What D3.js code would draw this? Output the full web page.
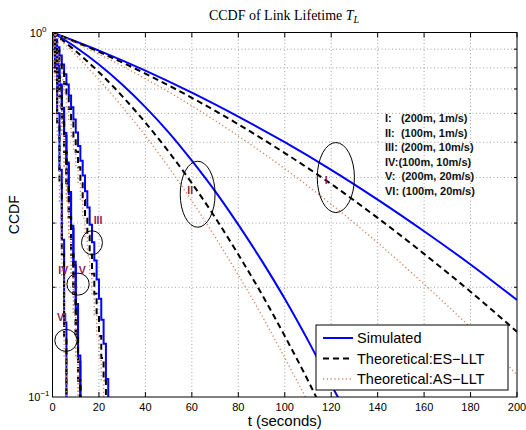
<!DOCTYPE html>
<html><head><meta charset="utf-8">
<script src="https://cdn.jsdelivr.net/npm/d3@7"></script>
<style>
body{margin:0;background:#fff;}
svg{display:block;}
</style></head>
<body>
<svg id="chart" width="526" height="430"></svg>
<script>
// ---------- data ----------
const tI = [0,20,40,60,80,100,120,140,160,180,200];
const simI = [1,0.892,0.786,0.684,0.588,0.500,0.420,0.348,0.285,0.231,0.1845];
const esI  = [1,0.885,0.771,0.662,0.560,0.467,0.384,0.310,0.247,0.1945,0.151];
const asI  = [1,0.872,0.747,0.629,0.520,0.423,0.338,0.265,0.204,0.155,0.115];

const tII = [0,10,20,30,40,50,60,70,80,90,100,110,120,130];
const simII = [1,0.911,0.817,0.720,0.624,0.532,0.445,0.367,0.297,0.237,0.186,0.143,0.108,0.083];
const esII  = [1,0.889,0.778,0.669,0.566,0.471,0.386,0.311,0.246,0.192,0.147,0.111,0.082,0.060];
const asII  = [1,0.868,0.742,0.626,0.521,0.427,0.345,0.275,0.216,0.168,0.128,0.097,0.072,0.053];

const tSteep = [0,1,2,3,4,5,6,7,8,9,10,11,12,13,14,15,16,17,18,19,20,21,22,23,24,25];
const simIII = [1,0.957,0.911,0.865,0.817,0.768,0.720,0.672,0.624,0.577,0.532,0.488,0.445,0.405,0.367,0.331,0.297,0.266,0.237,0.210,0.186,0.163,0.140,0.112,0.095,0.080];
const esIII  = [1,0.945,0.889,0.833,0.778,0.723,0.669,0.617,0.566,0.518,0.471,0.427,0.386,0.347,0.311,0.277,0.246,0.218,0.192,0.168,0.147,0.128,0.111,0.096,0.080];
const asIII  = [1,0.933,0.868,0.804,0.742,0.683,0.626,0.572,0.521,0.472,0.427,0.385,0.345,0.309,0.275,0.244,0.216,0.191,0.168,0.147,0.128,0.111,0.097,0.080];
const simIV = [1,0.910,0.810,0.710,0.615,0.520,0.435,0.360,0.290,0.230,0.175,0.125,0.090];
const esIV  = [1,0.889,0.778,0.669,0.566,0.471,0.386,0.311,0.246,0.192,0.147,0.111,0.082];
const asIV  = [1,0.868,0.742,0.626,0.521,0.427,0.345,0.275,0.216,0.168,0.128,0.097,0.072];
const simV  = [1,0.915,0.818,0.720,0.622,0.530,0.440,0.365,0.295,0.235,0.180,0.130,0.092];
const esV   = [1,0.889,0.778,0.669,0.566,0.471,0.386,0.311,0.246,0.192,0.147,0.111,0.082];
const asV   = [1,0.868,0.742,0.626,0.521,0.427,0.345,0.275,0.216,0.168,0.128,0.097,0.072];
const simVI = [1,0.800,0.600,0.420,0.270,0.160,0.090];
const esVI  = [1,0.778,0.566,0.386,0.246,0.147,0.082];
const asVI  = [1,0.742,0.521,0.345,0.216,0.128,0.072];

const xTicks = [0,20,40,60,80,100,120,140,160,180,200];
const yMinor = [0.2,0.3,0.4,0.5,0.6,0.7,0.8,0.9];
const legendLabels = ["Simulated","Theoretical:ES\u2212LLT","Theoretical:AS\u2212LLT"];
const caseLines = ["I:   (200m, 1m/s)","II:  (100m, 1m/s)","III: (200m, 10m/s)","IV:(100m, 10m/s)","V:  (200m, 20m/s)","VI: (100m, 20m/s)"];
// ellipse annotations
const marks = [
  {lab:"I",   t:122, p:0.40, rt:8,  rp:35, lt:117.8, lp:0.385},
  {lab:"II",  t:62.5,p:0.36, rt:7.5,rp:33, lt:59.3,  lp:0.36},
  {lab:"III", t:17,  p:0.265,rt:4.5,rp:12, lt:19.6,  lp:0.298},
  {lab:"IV",  t:11,  p:0.204,rt:4.8,rp:11, lt:4.6,   lp:0.2175},
  {lab:"V",   t:11,  p:0.204,rt:0,  rp:0,  lt:12.8,  lp:0.2175},
  {lab:"VI",  t:5.8, p:0.143,rt:4.8,rp:11, lt:4.1,   lp:0.1616}
];

// ---------- setup ----------
const svg = d3.select("#chart");
const L = 52.5, R = 517, T = 32.5, B = 397;
const x = d3.scaleLinear().domain([0,200]).range([L,R]);
const y = d3.scaleLog().domain([0.1,1]).range([B,T]);

svg.append("defs").append("clipPath").attr("id","clip")
  .append("rect").attr("x",L).attr("y",T).attr("width",R-L).attr("height",B-T);

// grid
const grid = svg.append("g").attr("stroke","#8a8a8a").attr("stroke-width",0.8).attr("stroke-dasharray","1,2.5");
xTicks.slice(1,-1).forEach(v=>grid.append("line").attr("x1",x(v)).attr("x2",x(v)).attr("y1",T).attr("y2",B));
yMinor.forEach(v=>grid.append("line").attr("x1",L).attr("x2",R).attr("y1",y(v)).attr("y2",y(v)));

// curves
const plot = svg.append("g").attr("clip-path","url(#clip)");
const styles = {
  sim:{stroke:"#0000ff",w:2,dash:null},
  es:{stroke:"#000",w:2,dash:"6,4"},
  as:{stroke:"#d9825b",w:1.4,dash:"1.2,2.6"}
};
function draw(ts, vs, st, curve){
  const line = d3.line().x((d,i)=>x(ts[i])).y(d=>y(Math.max(d,0.05))).curve(curve);
  plot.append("path").datum(vs).attr("d",line).attr("fill","none")
    .attr("stroke",styles[st].stroke).attr("stroke-width",styles[st].w)
    .attr("stroke-dasharray",styles[st].dash).attr("stroke-linejoin","miter");
}
const S = d3.curveStepAfter, Lc = d3.curveMonotoneX;
draw(tI, simI, "sim", Lc); draw(tII, simII, "sim", Lc);
draw(tSteep, simIII, "sim", S); draw(tSteep, simIV, "sim", S); draw(tSteep, simV, "sim", S); draw(tSteep, simVI, "sim", S);
draw(tI, esI, "es", Lc); draw(tII, esII, "es", Lc);
draw(tSteep, esIII, "es", S); draw(tSteep, esIV, "es", S); draw(tSteep, esV, "es", S); draw(tSteep, esVI, "es", S);
draw(tI, asI, "as", Lc); draw(tII, asII, "as", Lc);
draw(tSteep, asIII, "as", S); draw(tSteep, asIV, "as", S); draw(tSteep, asV, "as", S); draw(tSteep, asVI, "as", S);

// axes frame & ticks
const ax = svg.append("g").attr("stroke","#000").attr("stroke-width",1);
ax.append("rect").attr("x",L).attr("y",T).attr("width",R-L).attr("height",B-T).attr("fill","none");
xTicks.forEach(v=>{
  ax.append("line").attr("x1",x(v)).attr("x2",x(v)).attr("y1",B).attr("y2",B-5);
  ax.append("line").attr("x1",x(v)).attr("x2",x(v)).attr("y1",T).attr("y2",T+5);
});
yMinor.forEach(v=>{
  ax.append("line").attr("x1",L).attr("x2",L+3).attr("y1",y(v)).attr("y2",y(v));
  ax.append("line").attr("x1",R).attr("x2",R-3).attr("y1",y(v)).attr("y2",y(v));
});
const xAxisLabels = svg.append("g").attr("font-family","Liberation Sans, Arial, sans-serif").attr("font-size",11).attr("fill","#000");
xTicks.forEach(v=>xAxisLabels.append("text").attr("x",x(v)).attr("y",B+14).attr("text-anchor","middle").text(v));
const yl = svg.append("g").attr("font-family","Liberation Sans, Arial, sans-serif").attr("fill","#000");
[[1,"0"],[0.1,"\u22121"]].forEach(([v,e])=>{
  const t = yl.append("text").attr("text-anchor","end").attr("x",e==="0"?L-6:L-3).attr("y",y(v)+4).attr("font-size",11);
  t.append("tspan").text("10");
  t.append("tspan").attr("dy",-5).attr("font-size",8).text(e);
});

// labels
svg.append("text").attr("x",284).attr("y",20).attr("text-anchor","middle")
  .attr("font-family","Liberation Serif, Times New Roman, serif").attr("font-size",14)
  .call(t=>{
    t.append("tspan").text("CCDF of Link Lifetime ");
    t.append("tspan").attr("font-style","italic").text("T");
    t.append("tspan").attr("font-style","italic").attr("font-size",10).attr("dy",3).text("L");
  });
svg.append("text").attr("x",x(100)).attr("y",426).attr("text-anchor","middle")
  .attr("font-family","Liberation Sans, Arial, sans-serif").attr("font-size",15).text("t (seconds)");
svg.append("text").attr("transform",`translate(19,${(T+B)/2}) rotate(-90)`).attr("text-anchor","middle")
  .attr("font-family","Liberation Sans, Arial, sans-serif").attr("font-size",14).text("CCDF");

// case list
const cl = svg.append("g").attr("font-family","Liberation Sans, Arial, sans-serif").attr("font-size",11)
  .attr("font-weight","bold").attr("fill","#111");
caseLines.forEach((s,i)=>cl.append("text").attr("x",385).attr("y",122+i*14.6).style("white-space","pre").text(s));

// ellipses and roman labels
const an = svg.append("g");
marks.forEach(m=>{
  if(m.rt>0) an.append("ellipse").attr("cx",x(m.t)).attr("cy",y(m.p))
    .attr("rx",x(m.rt)-x(0)).attr("ry",m.rp).attr("fill","none").attr("stroke","#000").attr("stroke-width",1);
  an.append("text").attr("x",x(m.lt)).attr("y",y(m.lp)).attr("text-anchor","middle")
    .attr("font-family","Liberation Sans, Arial, sans-serif").attr("font-size",10.5).attr("font-weight","bold")
    .attr("fill","#8b1c4e").text(m.lab);
});

// legend
const lg = svg.append("g");
lg.append("rect").attr("x",316).attr("y",325).attr("width",192).attr("height",65).attr("fill","#fff").attr("stroke","#000").attr("stroke-width",1);
["sim","es","as"].forEach((k,i)=>{
  const yy = 338 + i*20.5;
  lg.append("line").attr("x1",323).attr("x2",353).attr("y1",yy).attr("y2",yy)
    .attr("stroke",styles[k].stroke).attr("stroke-width",styles[k].w).attr("stroke-dasharray",styles[k].dash);
  lg.append("text").attr("x",357).attr("y",yy+5).attr("font-family","Liberation Sans, Arial, sans-serif")
    .attr("font-size",14.5).attr("fill","#000").text(legendLabels[i]);
});
</script>
</body></html>
